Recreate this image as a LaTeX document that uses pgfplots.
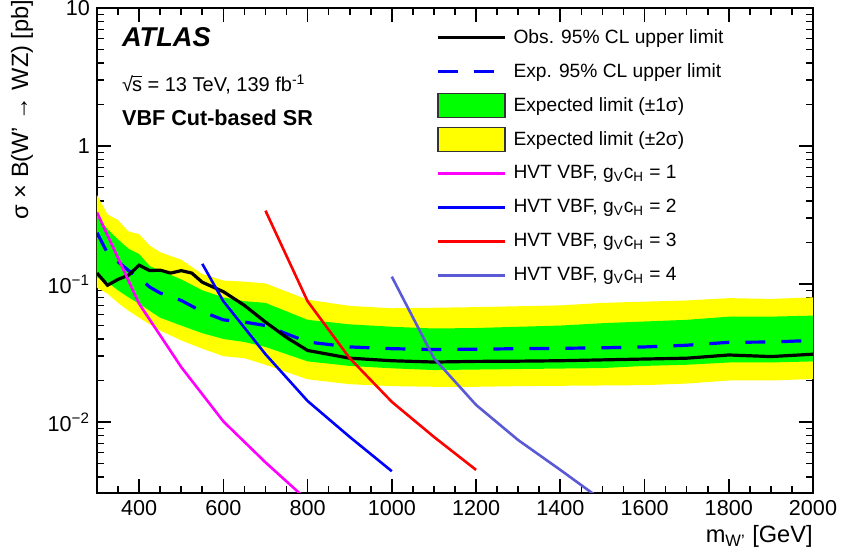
\documentclass[border=0pt]{standalone}
\usepackage{pgfplots}
\pgfplotsset{compat=1.18}
\usepackage{pgfplotstable}
\usepgfplotslibrary{fillbetween}
\usepackage{fontspec}
\setmainfont{Liberation Sans}
\definecolor{hvtone}{RGB}{255,0,255}
\definecolor{hvttwo}{RGB}{0,0,255}
\definecolor{hvtthree}{RGB}{255,0,0}
\definecolor{hvtfour}{RGB}{90,90,215}
\definecolor{bandgreen}{RGB}{0,255,0}
\definecolor{bandyellow}{RGB}{255,255,0}

\pgfplotstableread{
m    obs
300  0.120
325  0.098
350  0.108
375  0.116
400  0.137
425  0.125
450  0.126
475  0.120
500  0.125
525  0.120
550  0.103
600  0.088
650  0.070
700  0.053
750  0.041
800  0.033
900  0.029
1000 0.0278
1100 0.0272
1200 0.0275
1300 0.0276
1400 0.0278
1500 0.0282
1600 0.0286
1700 0.0290
1800 0.0306
1900 0.0298
2000 0.0310
}\obstab

\pgfplotstableread{
m    exp    glo    ghi    ylo    yhi
300  0.235  0.112  0.310  0.094  0.440
325  0.167  0.103  0.250  0.085  0.320
350  0.145  0.090  0.210  0.073  0.290
375  0.125  0.080  0.180  0.064  0.240
400  0.112  0.072  0.165  0.057  0.230
425  0.095  0.064  0.135  0.051  0.190
450  0.086  0.057  0.125  0.046  0.170
500  0.076  0.050  0.108  0.039  0.150
550  0.063  0.044  0.090  0.034  0.118
600  0.055  0.040  0.080  0.030  0.106
650  0.053  0.038  0.075  0.029  0.104
700  0.050  0.035  0.073  0.026  0.101
800  0.038  0.0275 0.055  0.0204 0.077
900  0.035  0.0255 0.051  0.0188 0.0694
1000 0.034  0.0245 0.049  0.0182 0.0667
1100 0.0335 0.0238 0.0476 0.0180 0.0673
1200 0.0337 0.0240 0.0480 0.0180 0.0680
1300 0.0340 0.0242 0.0490 0.0182 0.0690
1400 0.0342 0.0244 0.0500 0.0183 0.0700
1500 0.0345 0.0246 0.0520 0.0184 0.0730
1600 0.0350 0.0255 0.0535 0.0185 0.0745
1700 0.0360 0.0260 0.0550 0.0190 0.0760
1800 0.0378 0.0270 0.0580 0.0200 0.0790
1900 0.0380 0.0270 0.0580 0.0200 0.0780
2000 0.0390 0.0275 0.0590 0.0205 0.0800
}\exptab

\begin{document}
\begin{tikzpicture}
\begin{axis}[
  scale only axis, width=358pt, height=242.5pt,
  at={(0,0)}, anchor=south west,
  ymode=log, xmin=300, xmax=2000, ymin=0.00306, ymax=10,
  axis line style={line width=1pt},
  every tick/.style={black, line width=0.8pt},
  tick align=inside,
  xtick pos=both, ytick pos=both,
  xticklabel pos=lower, yticklabel pos=left,
  major tick length=7pt, minor tick length=3.5pt,
  xtick={400,600,...,2000},
  minor xtick={300,350,...,2000},
  ytick={0.01,0.1,1,10},
  yticklabels={10\textsuperscript{−2},10\textsuperscript{−1},1,10},
  minor ytick={0.004,0.005,0.006,0.007,0.008,0.009,0.02,0.03,0.04,0.05,0.06,0.07,0.08,0.09,0.2,0.3,0.4,0.5,0.6,0.7,0.8,0.9,2,3,4,5,6,7,8,9},
  tick label style={font=\fontsize{10.8}{12}\selectfont},
  /pgf/number format/assume math mode=true,
  /pgf/number format/1000 sep={},
  xlabel={m\textsubscript{W'} [GeV]},
  xlabel style={font=\fontsize{11.8}{13}\selectfont, at={(axis description cs:1,0)}, anchor=base east, yshift=-25pt, inner sep=0pt},
  ylabel={σ × B(W' → WZ) [pb]},
  ylabel style={font=\fontsize{11.8}{13}\selectfont, at={(axis description cs:-0.1047,1.018)}, anchor=east, inner sep=0pt},
  legend style={draw=none, fill=none, at={(axis description cs:0.465,0.983)}, anchor=north west,
    font=\fontsize{9.6}{11}\selectfont, row sep=0pt, column sep=1.5pt, nodes={minimum height=17pt}},
  legend cell align=left,
  legend image code/.code={\draw[#1] (0pt,0pt) -- (33.5pt,0pt);},
]
% bands
\addplot[draw=none, name path=yhi, forget plot] table[x=m,y=yhi]{\exptab};
\addplot[draw=none, name path=ylo, forget plot] table[x=m,y=ylo]{\exptab};
\addplot[fill=bandyellow, draw=none, forget plot] fill between[of=yhi and ylo];
\addplot[draw=none, name path=ghi, forget plot] table[x=m,y=ghi]{\exptab};
\addplot[draw=none, name path=glo, forget plot] table[x=m,y=glo]{\exptab};
\addplot[fill=bandgreen, draw=none, forget plot] fill between[of=ghi and glo];
% expected and observed
\addplot[hvttwo, line width=1.6pt, dash pattern=on 10pt off 8pt, forget plot] table[x=m,y=exp]{\exptab};
\addplot[black, line width=1.6pt, forget plot] table[x=m,y=obs]{\obstab};
% HVT signals
\addplot[hvtone, line width=1.3pt, forget plot] coordinates {(300,0.33) (400,0.072) (500,0.025) (600,0.0101) (700,0.0051) (800,0.0027)};
\addplot[hvttwo, line width=1.3pt, forget plot] coordinates {(550,0.14) (600,0.075) (700,0.031) (800,0.0142) (900,0.0078) (1000,0.0044)};
\addplot[hvtthree, line width=1.3pt, forget plot] coordinates {(700,0.34) (800,0.075) (900,0.029) (1000,0.014) (1100,0.0078) (1200,0.0045)};
\addplot[hvtfour, line width=1.3pt, forget plot] coordinates {(1000,0.113) (1100,0.029) (1200,0.0133) (1300,0.0074) (1400,0.0045) (1500,0.0027)};
% legend
\addlegendimage{black, line width=1.6pt}
\addlegendentry{Obs. 95\% CL upper limit}
\addlegendimage{hvttwo, line width=1.6pt, dash pattern=on 10pt off 8pt}
\addlegendentry{Exp. 95\% CL upper limit}
\addlegendimage{legend image code/.code={\draw[fill=bandgreen, draw=black!80, line width=0.6pt] (0pt,-6pt) rectangle (33.5pt,6pt);}}
\addlegendentry{Expected limit (±1σ)}
\addlegendimage{legend image code/.code={\draw[fill=bandyellow, draw=black!80, line width=0.6pt] (0pt,-6pt) rectangle (33.5pt,6pt);}}
\addlegendentry{Expected limit (±2σ)}
\addlegendimage{hvtone, line width=1.3pt}
\addlegendentry{HVT VBF, g\textsubscript{V}c\textsubscript{H} = 1}
\addlegendimage{hvttwo, line width=1.3pt}
\addlegendentry{HVT VBF, g\textsubscript{V}c\textsubscript{H} = 2}
\addlegendimage{hvtthree, line width=1.3pt}
\addlegendentry{HVT VBF, g\textsubscript{V}c\textsubscript{H} = 3}
\addlegendimage{hvtfour, line width=1.3pt}
\addlegendentry{HVT VBF, g\textsubscript{V}c\textsubscript{H} = 4}
% labels
\node[anchor=base west, inner sep=0pt, font=\fontsize{13.6}{15}\selectfont\bfseries\itshape] at (axis description cs:0.0345,0.920) {ATLAS};
\node[anchor=base west, inner sep=0pt, font=\fontsize{10}{12}\selectfont] at (axis description cs:0.0345,0.827) {√\kern-0.05em\rlap{\rule[0.74em]{0.5em}{0.06em}}s = 13 TeV, 139 fb\textsuperscript{-1}};
\node[anchor=base west, inner sep=0pt, font=\fontsize{10.8}{12}\selectfont\bfseries] at (axis description cs:0.0345,0.757) {VBF Cut-based SR};
\end{axis}
\pgfresetboundingbox
\useasboundingbox (-48.5pt,-31.5pt) rectangle (372.5pt,246.5pt);
\end{tikzpicture}
\end{document}
